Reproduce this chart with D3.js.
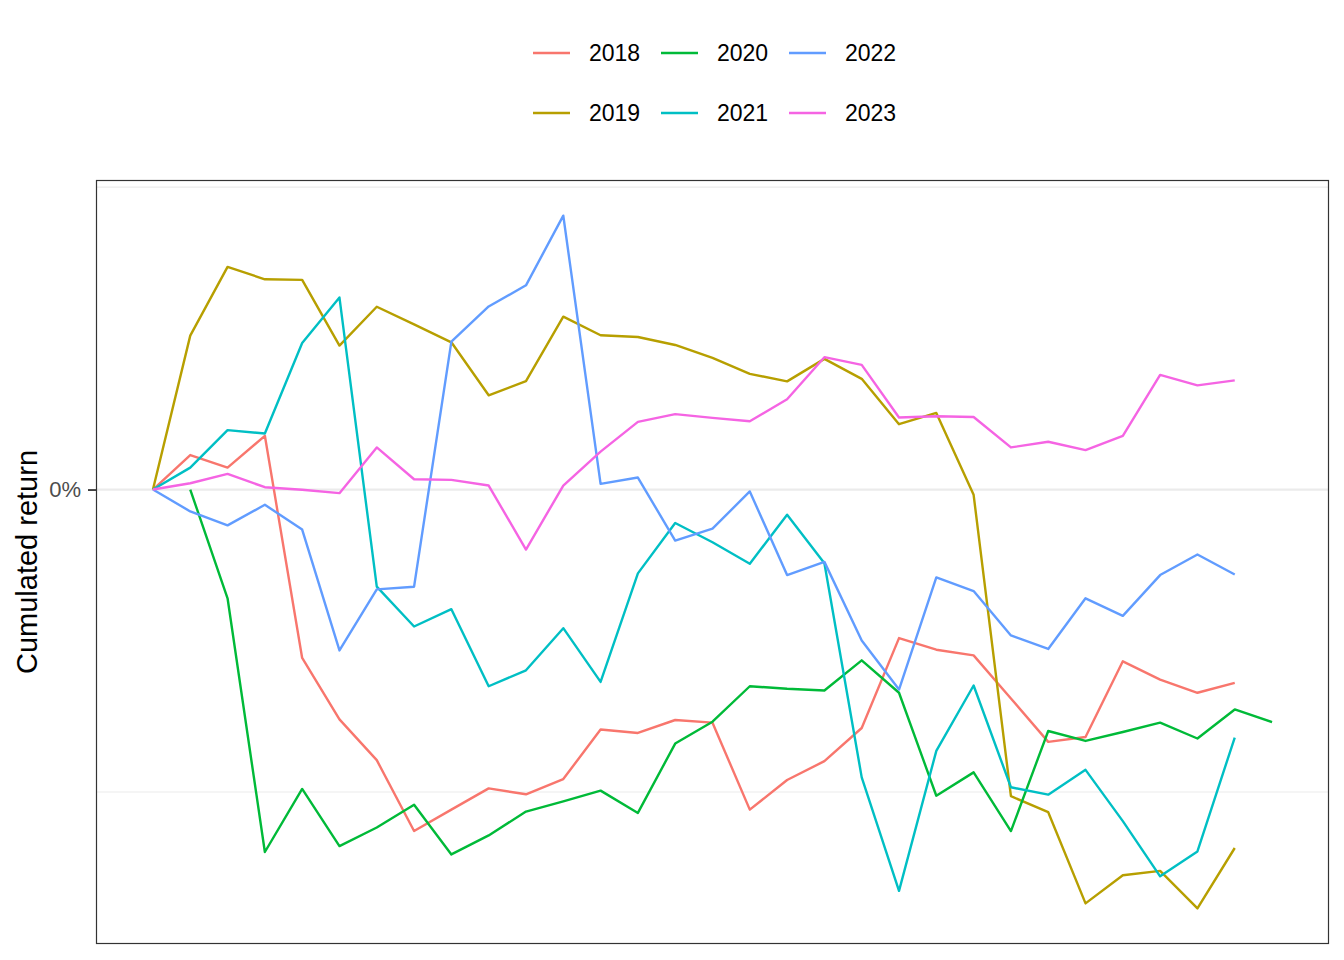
<!DOCTYPE html>
<html>
<head>
<meta charset="utf-8">
<script src="https://cdn.jsdelivr.net/npm/d3@7"></script>
<style>
  html, body { margin: 0; padding: 0; background: #fff; }
  svg { display: block; font-family: "Liberation Sans", Arial, Helvetica, sans-serif; }
</style>
</head>
<body>
<svg id="chart" width="1344" height="960"></svg>
<script>
// ---- data (cumulated return, %) indexed by period 0..30 ----
const periods = d3.range(0, 31);
const years = ["2018", "2019", "2020", "2021", "2022", "2023"];
const colors = ["#F8766D", "#B79F00", "#00BA38", "#00BFC4", "#619CFF", "#F564E3"];

const r2018 = [0, 2.85, 1.81, 4.44, -13.92, -19.00, -22.37, -28.23, -26.46, -24.70, -25.19, -23.93, -19.84, -20.12, -19.05, -19.27, -26.46, -24.01, -22.45, -19.71, -12.28, -13.24, -13.71, -17.27, -20.86, -20.45, -14.20, -15.71, -16.80, -15.98, null];
const r2019 = [0, 12.72, 18.40, 17.38, 17.33, 11.90, 15.11, 13.65, 12.17, 7.79, 8.96, 14.29, 12.75, 12.61, 11.95, 10.88, 9.56, 8.94, 10.80, 9.15, 5.40, 6.33, -0.44, -25.35, -26.67, -34.21, -31.88, -31.52, -34.62, -29.63, null];
const r2020 = [null, 0, -8.99, -29.96, -24.75, -29.47, -27.94, -26.05, -30.16, -28.59, -26.62, -25.77, -24.89, -26.73, -21.00, -19.19, -16.26, -16.47, -16.61, -14.12, -16.80, -25.31, -23.38, -28.23, -19.96, -20.78, -20.04, -19.27, -20.58, -18.18, -19.22];
const r2021 = [0, 1.81, 4.91, 4.63, 12.11, 15.87, -8.03, -11.32, -9.89, -16.26, -14.94, -11.46, -15.90, -6.93, -2.77, -4.36, -6.13, -2.08, -6.09, -23.79, -33.17, -21.60, -16.20, -24.61, -25.22, -23.17, -27.41, -31.97, -29.91, -20.50, null];
const r2022 = [0, -1.81, -2.96, -1.26, -3.31, -13.30, -8.25, -8.03, 12.23, 15.13, 16.88, 22.64, 0.47, 0.99, -4.22, -3.23, -0.16, -7.07, -5.98, -12.48, -16.53, -7.26, -8.39, -12.06, -13.18, -8.99, -10.44, -7.07, -5.37, -7.02, null];
const r2023 = [0, 0.52, 1.29, 0.19, -0.02, -0.30, 3.48, 0.85, 0.80, 0.33, -4.96, 0.33, 3.13, 5.59, 6.23, 5.92, 5.65, 7.46, 10.94, 10.30, 5.95, 6.06, 6.00, 3.48, 3.95, 3.26, 4.44, 9.48, 8.61, 9.02, null];

const yBreaks = [0];
const yMinorBreaks = [-25, 25];
const yLabel = "Cumulated return";

// ---- build ----
const seriesValues = [r2018, r2019, r2020, r2021, r2022, r2023];
const series = years.map((yr, i) => ({
  year: yr,
  color: colors[i],
  points: periods.map(p => ({ p, v: seriesValues[i][p] }))
}));

const svg = d3.select("#chart");
svg.append("rect").attr("width", 1344).attr("height", 960).attr("fill", "#fff");

const panel = { left: 97, right: 1328, top: 181, bottom: 943 };

const xExt = d3.extent(periods);
const xPad = (xExt[1] - xExt[0]) * 0.05;
const x = d3.scaleLinear().domain([xExt[0] - xPad, xExt[1] + xPad]).range([panel.left, panel.right]);

const allVals = seriesValues.flat().filter(v => v != null);
const yExt = d3.extent(allVals);
const yPad = (yExt[1] - yExt[0]) * 0.05;
const y = d3.scaleLinear().domain([yExt[0] - yPad, yExt[1] + yPad]).range([panel.bottom, panel.top]);

// gridlines
const grid = svg.append("g");
grid.selectAll("line.minor").data(yMinorBreaks).join("line")
  .attr("class", "minor")
  .attr("x1", panel.left).attr("x2", panel.right)
  .attr("y1", d => y(d)).attr("y2", d => y(d))
  .attr("stroke", "#ebebeb").attr("stroke-width", 1.1);
grid.selectAll("line.major").data(yBreaks).join("line")
  .attr("class", "major")
  .attr("x1", panel.left).attr("x2", panel.right)
  .attr("y1", d => y(d)).attr("y2", d => y(d))
  .attr("stroke", "#ebebeb").attr("stroke-width", 2.2);

// lines
const line = d3.line()
  .defined(d => d.v != null)
  .x(d => x(d.p))
  .y(d => y(d.v));

const clipId = "panelClip";
svg.append("clipPath").attr("id", clipId).append("rect")
  .attr("x", panel.left).attr("y", panel.top)
  .attr("width", panel.right - panel.left).attr("height", panel.bottom - panel.top);

svg.append("g").attr("clip-path", `url(#${clipId})`)
  .selectAll("path").data(series).join("path")
  .attr("d", d => line(d.points))
  .attr("fill", "none")
  .attr("stroke", d => d.color)
  .attr("stroke-width", 2.4)
  .attr("stroke-linejoin", "round");

// panel border (crisp 1px)
svg.append("rect")
  .attr("x", panel.left - 0.5).attr("y", panel.top - 0.5)
  .attr("width", panel.right - panel.left + 1).attr("height", panel.bottom - panel.top + 1)
  .attr("fill", "none").attr("stroke", "#333333").attr("stroke-width", 1.2);

// y axis
const yAxis = d3.axisLeft(y).tickValues(yBreaks).tickFormat(d => d + "%").tickSize(8).tickPadding(7);
const gy = svg.append("g").attr("transform", `translate(${panel.left - 1},0)`).call(yAxis);
gy.select(".domain").remove();
gy.selectAll(".tick line").attr("stroke", "#333333").attr("stroke-width", 1.8);
gy.selectAll(".tick text").attr("fill", "#4d4d4d").attr("font-size", 22)
  .attr("font-family", "'Liberation Sans', Arial, Helvetica, sans-serif");

// y label
svg.append("text")
  .attr("transform", `translate(37,${(panel.top + panel.bottom) / 2}) rotate(-90)`)
  .attr("text-anchor", "middle")
  .attr("font-size", 29)
  .attr("fill", "#000")
  .text(yLabel);

// legend (2 rows, filled by column)
const legendCols = [533, 661, 789];
const legendRows = [53, 113];
const legend = svg.append("g");
series.forEach((s, i) => {
  const col = Math.floor(i / 2), row = i % 2;
  const lx = legendCols[col], ly = legendRows[row];
  legend.append("line")
    .attr("x1", lx).attr("x2", lx + 37)
    .attr("y1", ly).attr("y2", ly)
    .attr("stroke", s.color).attr("stroke-width", 2.6);
  legend.append("text")
    .attr("x", lx + 56).attr("y", ly)
    .attr("dy", "0.35em")
    .attr("font-size", 23)
    .attr("fill", "#000")
    .text(s.year);
});
</script>
</body>
</html>
